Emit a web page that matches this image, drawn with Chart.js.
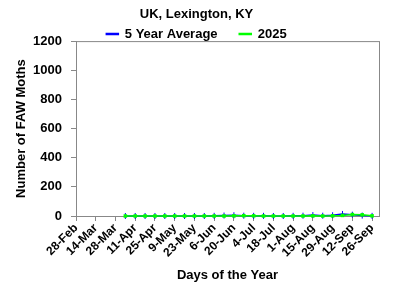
<!DOCTYPE html>
<html>
<head>
<meta charset="utf-8">
<script src="https://cdn.jsdelivr.net/npm/chart.js@4.4.1/dist/chart.umd.min.js"></script>
<style>
  html, body { margin: 0; padding: 0; background: #fff; }
  #wrap { width: 400px; height: 291px; }
</style>
</head>
<body>
<div id="wrap"><canvas id="faw-chart" width="400" height="291"></canvas></div>
<script>
// weekly trap dates, labelled every other week
var weeks = ['28-Feb', '7-Mar', '14-Mar', '21-Mar', '28-Mar', '4-Apr', '11-Apr', '18-Apr',
  '25-Apr', '2-May', '9-May', '16-May', '23-May', '30-May', '6-Jun', '13-Jun', '20-Jun',
  '27-Jun', '4-Jul', '11-Jul', '18-Jul', '25-Jul', '1-Aug', '8-Aug', '15-Aug', '22-Aug',
  '29-Aug', '5-Sep', '12-Sep', '19-Sep', '26-Sep'];

var avg5yr = [null, null, null, null, null, 0, 0, 0, 0, 0, 0, 0, 0, 0, 1, 3, 5, 2, 1, 1,
  0, 0, 1, 2, 6, 2, 5, 14, 9, 3, 1];
var y2025 = [null, null, null, null, null, 0, 0, 0, 0, 0, 0, 0, 0, 0, 0, 0, 1, 2, 1, 0,
  0, 0, 0, 0, 1, 0, 1, 4, 10, 8, 1];

var yTicks = [0, 200, 400, 600, 800, 1000, 1200];

function toPoints(arr) {
  var pts = [];
  arr.forEach(function (v, i) { if (v !== null) pts.push({ x: i, y: v }); });
  return pts;
}

var font = "'Liberation Sans', Arial, sans-serif";
var axisGray = '#888888';

// grey frame round the plot area, like the spreadsheet chart
var frame = {
  id: 'frame',
  beforeInit: function (chart) {
    // shorter legend box so the plot starts right under it
    var fit = chart.legend.fit;
    chart.legend.fit = function () {
      fit.call(this);
      this.height = 13.5;
    };
  },
  beforeDatasetsDraw: function (chart) {
    var a = chart.chartArea, c = chart.ctx;
    c.save();
    c.strokeStyle = axisGray;
    c.lineWidth = 1;
    c.strokeRect(a.left + 0.5, a.top + 0.5, a.right - a.left, a.bottom - a.top);
    c.restore();
  }
};

var ctx = document.getElementById('faw-chart').getContext('2d');
new Chart(ctx, {
  type: 'line',
  data: {
    datasets: [{
      label: '5 Year Average',
      data: toPoints(avg5yr),
      borderColor: '#0000ff',
      backgroundColor: '#0000ff',
      borderWidth: 1.5,
      pointStyle: 'line',
      rotation: 90,
      pointRadius: 3,
      pointBorderWidth: 1,
      tension: 0,
      clip: false,
      order: 1
    }, {
      label: '2025',
      data: toPoints(y2025),
      borderColor: '#00ff00',
      backgroundColor: '#00ff00',
      borderWidth: 1.5,
      pointStyle: 'rect',
      pointRadius: 2.5,
      pointBorderWidth: 0,
      tension: 0,
      clip: false,
      order: 0
    }]
  },
  options: {
    responsive: false,
    animation: false,
    devicePixelRatio: 1,
    layout: { padding: { left: 14, right: 21, top: 0, bottom: 8 } },
    plugins: {
      title: {
        display: true,
        text: 'UK, Lexington, KY',
        color: '#000',
        font: { family: font, size: 13, weight: 'bold' },
        padding: { top: 7, bottom: 5 }
      },
      legend: {
        display: true,
        labels: {
          color: '#000',
          font: { family: font, size: 13, weight: 'bold' },
          boxWidth: 12,
          boxHeight: 1,
          padding: 0,
          sort: function (a, b) { return a.datasetIndex - b.datasetIndex; },
          generateLabels: function (chart) {
            var items = Chart.defaults.plugins.legend.labels.generateLabels(chart);
            // widen the gap after the first entry
            items.forEach(function (it) {
              if (it.datasetIndex === 0) it.text = it.text + '      ';
            });
            return items;
          }
        }
      },
      tooltip: { enabled: false }
    },
    scales: {
      x: {
        type: 'linear',
        min: 0,
        max: 30.7,
        afterBuildTicks: function (scale) {
          var t = [];
          for (var i = 0; i < weeks.length; i += 2) t.push({ value: i });
          scale.ticks = t;
        },
        afterFit: function (scale) { scale.height = 67; },
        ticks: {
          autoSkip: false,
          maxRotation: 45,
          minRotation: 45,
          padding: 0,
          color: '#000',
          font: { family: font, size: 12, weight: 'bold' },
          callback: function (v) { return weeks[v]; }
        },
        grid: { display: true, drawOnChartArea: false, tickLength: 5, color: axisGray },
        border: { display: true, color: axisGray },
        title: {
          display: true,
          text: 'Days of the Year',
          color: '#000',
          font: { family: font, size: 13, weight: 'bold' },
          padding: { top: 3, bottom: 0 }
        }
      },
      y: {
        min: 0,
        max: 1200,
        afterBuildTicks: function (scale) {
          scale.ticks = yTicks.map(function (v) { return { value: v }; });
        },
        afterFit: function (scale) { scale.width = 62; },
        ticks: {
          padding: 9,
          color: '#000',
          font: { family: font, size: 13, weight: 'bold' },
          callback: function (v) { return String(v); }
        },
        grid: { display: true, drawOnChartArea: false, tickLength: 5, color: axisGray },
        border: { display: true, color: axisGray },
        title: {
          display: true,
          text: 'Number of FAW Moths',
          color: '#000',
          font: { family: font, size: 13, weight: 'bold' },
          padding: { top: 0, bottom: 4 }
        }
      }
    }
  },
  plugins: [frame]
});
</script>
</body>
</html>
